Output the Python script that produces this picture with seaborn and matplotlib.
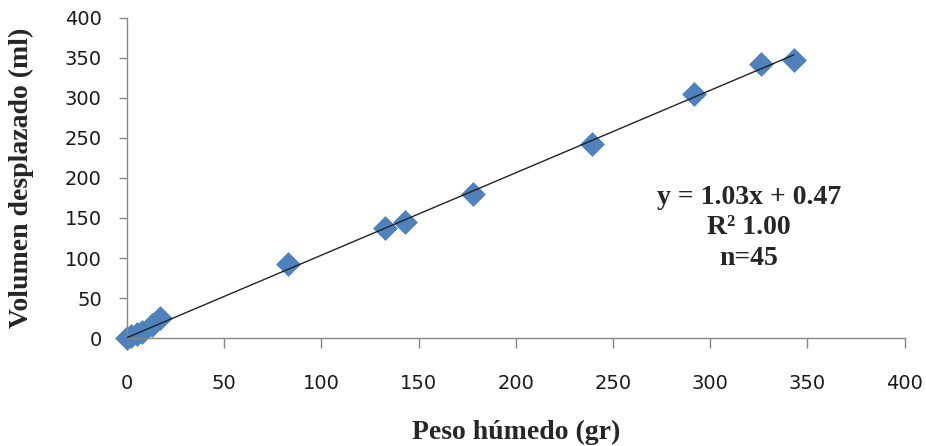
import matplotlib
matplotlib.use("Agg")
import matplotlib.pyplot as plt
import seaborn as sns
import numpy as np
import pandas as pd

# Data
peso_humedo = [0, 2, 5, 8, 13, 17, 83, 133, 143, 178, 239, 291.5, 326, 343]
volumen = [0, 2, 5, 8, 16, 25, 93, 138, 145, 180, 243, 305, 342, 347]
slope = 1.03
intercept = 0.47
eq_lines = ["y = 1.03x + 0.47", "R² 1.00", "n=45"]
x_ticks = [0, 50, 100, 150, 200, 250, 300, 350, 400]
y_ticks = [0, 50, 100, 150, 200, 250, 300, 350, 400]

sns.set_style("white")
plt.rcParams['font.family'] = ['DejaVu Sans']

df = pd.DataFrame({"x": peso_humedo, "y": volumen})

fig = plt.figure(figsize=(9.26, 4.46), dpi=100)
ax = fig.add_axes([0.137, 0.242, 0.840, 0.718])

# trend line
xs = np.array([min(peso_humedo), max(peso_humedo)])
ax.plot(xs, slope * xs + intercept, color="#222222", lw=1.0, zorder=3)

sns.scatterplot(data=df, x="x", y="y", marker="D", s=160, color="#4F81BD",
                edgecolor="#4F81BD", linewidth=0, ax=ax, zorder=2, clip_on=False)

ax.set_xlim(0, 400)
ax.set_ylim(0, 400)
ax.set_xticks(x_ticks)
ax.set_yticks(y_ticks)
ax.set_xticklabels([str(t) for t in x_ticks])
ax.set_yticklabels([str(t) for t in y_ticks])

for s in ["top", "right"]:
    ax.spines[s].set_visible(False)
for s in ["left", "bottom"]:
    ax.spines[s].set_color("#868686")
    ax.spines[s].set_linewidth(1.0)

ax.tick_params(axis="x", direction="out", length=7, width=1, color="#868686",
               pad=19, labelsize=14, labelcolor="#1a1a1a")
ax.tick_params(axis="y", direction="out", length=6, width=1, color="#868686",
               pad=12, labelsize=14, labelcolor="#1a1a1a")
ax.tick_params(bottom=True, left=True)

serif = ['Liberation Serif', 'DejaVu Serif']
ax.set_xlabel("Peso húmedo (gr)", family=serif, fontweight="bold", fontsize=20)
ax.set_ylabel("Volumen desplazado (ml)", family=serif, fontweight="bold", fontsize=20)
ax.xaxis.set_label_coords(0.5, -0.255)
ax.yaxis.set_label_coords(-0.12, 0.5)

ax.text(320, 137.5, "\n".join(eq_lines), family=serif, fontweight="bold",
        fontsize=20, ha="center", va="center", linespacing=1.3)

fig.savefig("out.png", dpi=100)
